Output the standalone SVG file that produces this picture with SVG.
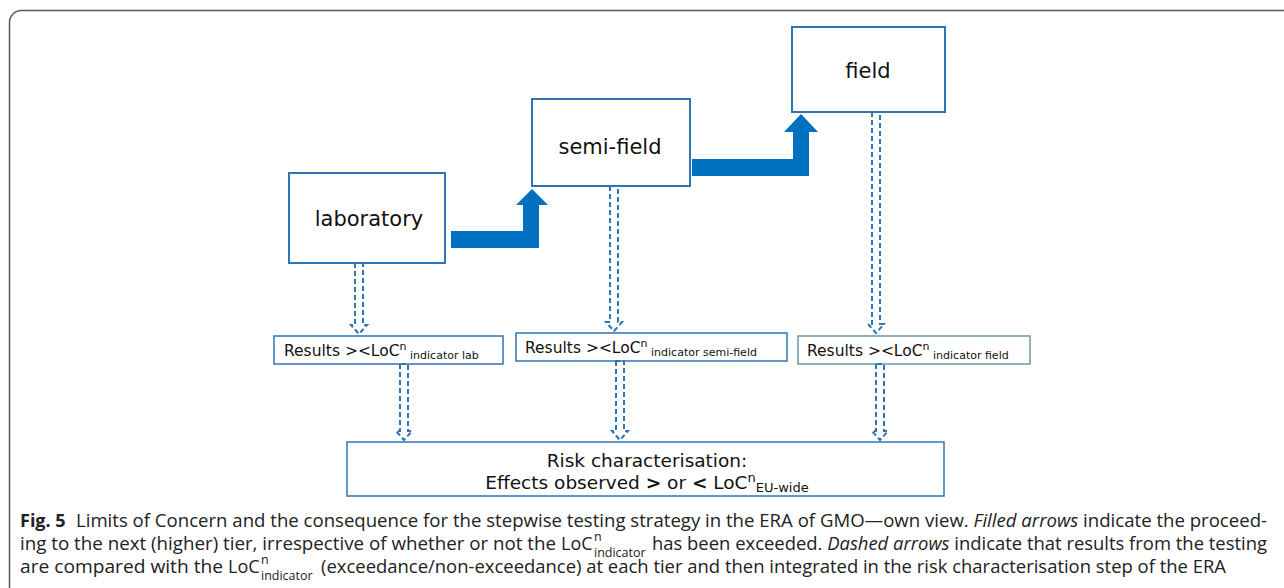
<svg xmlns="http://www.w3.org/2000/svg" width="1284" height="588" viewBox="0 0 1284 588">
  <style>
    .frame { fill: none; stroke: #5a5a5a; stroke-width: 1.5; }
    .box { fill: #ffffff; stroke: #2e75b6; stroke-width: 2; }
    .rbox { fill: #ffffff; stroke: #2e75b6; stroke-width: 1.5; }
    .rbox-alt { fill: #ffffff; stroke: #6a98a6; stroke-width: 1.5; }
    .tier { font-family: "DejaVu Sans", Verdana, sans-serif; font-size: 21px; fill: #111; text-anchor: middle; }
    .res { font-family: "DejaVu Sans", Verdana, sans-serif; font-size: 15.5px; fill: #111; }
    .small { font-size: 11px; }
    .risk { font-family: "DejaVu Sans", Verdana, sans-serif; font-size: 18.5px; fill: #111; text-anchor: middle; }
    .solid { fill: #0070c0; }
    .dash { fill: none; stroke: #2e75b6; stroke-width: 2; stroke-dasharray: 5 3; }
    .cap { font-family: "Open Sans", "Noto Sans", sans-serif; font-size: 18px; fill: #222; }
    .sm { font-size: 12.5px; }
  </style>

  <!-- figure panel outline -->
  <rect class="frame" x="9.5" y="10.5" width="1300" height="600" rx="12" ry="12"/>

  <!-- tier boxes -->
  <g id="laboratory">
    <rect class="box" x="289" y="173" width="156" height="90"/>
    <text class="tier" x="369" y="226">laboratory</text>
  </g>
  <g id="semi-field">
    <rect class="box" x="532" y="99" width="158" height="87"/>
    <text class="tier" x="610" y="154">semi-field</text>
  </g>
  <g id="field">
    <rect class="box" x="792" y="27" width="153" height="85"/>
    <text class="tier" x="868" y="78">field</text>
  </g>

  <!-- result comparison boxes -->
  <g id="results-lab">
    <rect class="rbox" x="274" y="336" width="229" height="28"/>
    <text class="res" x="284" y="356">Results &gt;&lt;LoC<tspan class="small" dy="-6">n</tspan><tspan class="small" dy="9"> indicator lab</tspan></text>
  </g>
  <g id="results-semi-field">
    <rect class="rbox" x="516" y="333" width="271" height="28"/>
    <text class="res" x="525" y="353">Results &gt;&lt;LoC<tspan class="small" dy="-6">n</tspan><tspan class="small" dy="9"> indicator semi-field</tspan></text>
  </g>
  <g id="results-field">
    <rect class="rbox-alt" x="798" y="336" width="232" height="28"/>
    <text class="res" x="807" y="356">Results &gt;&lt;LoC<tspan class="small" dy="-6">n</tspan><tspan class="small" dy="9"> indicator field</tspan></text>
  </g>

  <!-- risk characterisation -->
  <g id="risk-characterisation">
    <rect class="rbox" x="347" y="442" width="597" height="54"/>
    <text class="risk" x="647" y="467">Risk characterisation:</text>
    <text class="risk" x="647" y="489">Effects observed <tspan font-weight="bold">&gt;</tspan> or <tspan font-weight="bold">&lt;</tspan> LoC<tspan font-size="13" dy="-7">n</tspan><tspan font-size="13" dy="10">EU-wide</tspan></text>
  </g>

  <g id="connectors">
    <!-- filled arrows: proceeding to the next tier -->
    <polygon class="solid" points="451,231 523,231 523,205 516,205 532,189 548,205 539,205 539,248 451,248"/>
    <polygon class="solid" points="692,159 793,159 793,132 784,132 801,114 818,132 809,132 809,176 692,176"/>

    <!-- dashed hollow arrows: comparison and integration -->
    <path class="dash" d="M355,263 V325 H351 L359,334 L367,325 H363 V263 Z"/>
    <path class="dash" d="M610,186 V322 H606 L614,331 L622,322 H618 V186 Z"/>
    <path class="dash" d="M872,112 V324 H868 L876,333 L884,324 H880 V112 Z"/>
    <path class="dash" d="M400,364 V431 H396 L404,440 L412,431 H408 V364 Z"/>
    <path class="dash" d="M616,361 V431 H612 L620,440 L628,431 H624 V361 Z"/>
    <path class="dash" d="M876,364 V431 H872 L880,440 L888,431 H884 V364 Z"/>
  </g>

  <!-- caption -->
  <g id="caption">
    <text class="cap" x="20" y="527" font-weight="bold">Fig. 5</text>
    <text class="cap" x="76" y="527" textLength="1191" lengthAdjust="spacingAndGlyphs">Limits of Concern and the consequence for the stepwise testing strategy in the ERA of GMO—own view. <tspan font-style="italic">Filled arrows</tspan> indicate the proceed-</text>

    <text class="cap" x="20" y="550" textLength="536" lengthAdjust="spacingAndGlyphs">ing to the next (higher) tier, irrespective of whether or not the</text>
    <text class="cap" x="561" y="550">LoC<tspan class="sm" x="594" y="541">n</tspan><tspan class="sm" x="594" y="557">indicator</tspan></text>
    <text class="cap" x="652" y="550" textLength="615" lengthAdjust="spacingAndGlyphs">has been exceeded. <tspan font-style="italic">Dashed arrows</tspan> indicate that results from the testing</text>

    <text class="cap" x="20" y="573" textLength="203" lengthAdjust="spacingAndGlyphs">are compared with the</text>
    <text class="cap" x="228" y="573">LoC<tspan class="sm" x="261" y="564">n</tspan><tspan class="sm" x="261" y="580">indicator</tspan></text>
    <text class="cap" x="321" y="573" textLength="905" lengthAdjust="spacingAndGlyphs">(exceedance/non-exceedance) at each tier and then integrated in the risk characterisation step of the ERA</text>
  </g>
</svg>
